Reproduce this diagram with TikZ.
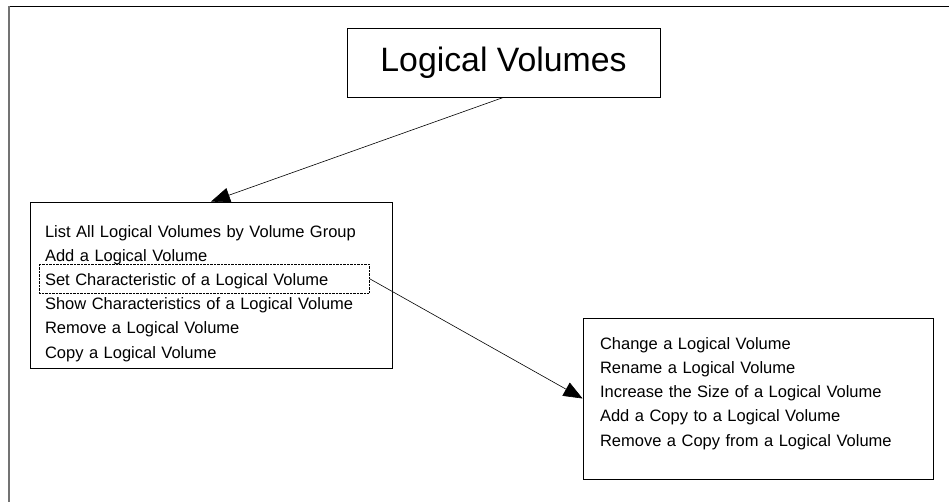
\documentclass[tikz,border=0pt]{standalone}
\usepackage{fontspec}
\setmainfont{Liberation Sans}
\usepackage{tikz}
\usetikzlibrary{arrows.meta,shapes}

\begin{document}
\begin{tikzpicture}[->,>={Triangle[length=19pt,width=15pt]},x=1pt,y=1pt,shorten >=0pt,semithick]
 \tikzstyle{every node}=[inner sep=0pt]
 \tikzstyle{titlebox}=[draw,thick,-,minimum width=313pt,minimum height=69pt,font=\fontsize{33.8}{40}\selectfont]
 \tikzstyle{menubox}=[draw,thick,-,align=left,font=\fontsize{16.5}{24}\selectfont]
 \tikzstyle{pick}=[draw,densely dotted,thin,-,minimum width=330pt,minimum height=29pt]
   \useasboundingbox (0,0) rectangle (949,-502);
   \draw[-,thin] (949,-6) -- (9,-6);
   \draw[-,line width=1.3pt,black!55] (9,-6.5) -- (9,-502);

   \node[titlebox] (lv) at (503.5,-62.5) {Logical Volumes};
   \node[menubox,inner xsep=15pt,text width=332pt,text height=36pt,text depth=130pt]
     (lvmenu) [below of = lv, node distance=222.5pt, xshift=-292.5pt]
     {List All Logical Volumes by Volume Group\\
      Add a Logical Volume\\
      Set Characteristic of a Logical Volume\\
      Show Characteristics of a Logical Volume\\
      Remove a Logical Volume\\
      Copy a Logical Volume};
   \node[pick] (setchar) [above of = lvmenu, node distance=6.5pt, xshift=-7pt] {};
   \node[menubox,inner xsep=17pt,text width=316pt,text height=31pt,text depth=130pt,font=\fontsize{16.5}{24.25}\selectfont]
     (lvsub) [right of = lvmenu, node distance=547pt, yshift=-113.5pt]
     {Change a Logical Volume\\
      Rename a Logical Volume\\
      Increase the Size of a Logical Volume\\
      Add a Copy to a Logical Volume\\
      Remove a Copy from a Logical Volume};

   \path[->]
   (lv.south) edge (lvmenu.north)
   (setchar.east) edge (lvsub.west);

\end{tikzpicture}
\end{document}
